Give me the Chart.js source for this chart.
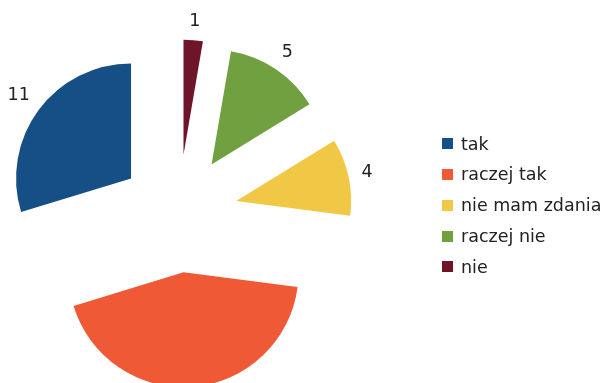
<!DOCTYPE html>
<html>
<head>
<meta charset="utf-8">
<script src="https://cdn.jsdelivr.net/npm/chart.js@4"></script>
<style>
    html, body { margin: 0; padding: 0; background: #fff; }
    #wrap { position: relative; width: 606px; height: 383px; overflow: hidden; }
    #legend { position: absolute; left: 442px; top: 128.6px; font-family: "DejaVu Sans", sans-serif; font-size: 17.5px; color: #222; }
    .row { display: flex; align-items: center; height: 30.75px; line-height: 30.75px; white-space: nowrap; }
    .box { width: 11px; height: 11px; margin-right: 8px; }
</style>
</head>
<body>
<div id="wrap">
    <canvas id="pieChart" width="606" height="383"></canvas>
    <div id="legend"></div>
</div>
<script>
// Chart data (legend order)
const categories = ['tak', 'raczej tak', 'nie mam zdania', 'raczej nie', 'nie'];
const answers = [11, 16, 4, 5, 1];
const sliceColors = ['#164f86', '#ef5936', '#f1c845', '#70a040', '#6e1529'];

// how far every slice is pulled out of the pie
const EXPLODE = 59;

// slices go counter-clockwise from the top, so feed them reversed
const drawLabels = categories.slice().reverse();
const drawValues = answers.slice().reverse();
const drawColors = sliceColors.slice().reverse();

// Draw each arc shifted outwards along its middle angle
const explodePlugin = {
    id: 'explode',
    beforeDatasetDraw(chart, args) {
        const ctx = chart.ctx;
        args.meta.data.forEach(arc => {
            const { startAngle, endAngle } = arc.getProps(['startAngle', 'endAngle'], true);
            const mid = (startAngle + endAngle) / 2;
            ctx.save();
            ctx.translate(Math.cos(mid) * EXPLODE, Math.sin(mid) * EXPLODE);
            arc.draw(ctx);
            ctx.restore();
        });
        return false;
    }
};

// Value labels outside the slices
const valueLabelPlugin = {
    id: 'valueLabels',
    afterDatasetsDraw(chart) {
        const ctx = chart.ctx;
        const meta = chart.getDatasetMeta(0);
        ctx.save();
        ctx.font = '17.5px "DejaVu Sans"';
        ctx.fillStyle = '#222';
        ctx.textAlign = 'center';
        ctx.textBaseline = 'middle';
        meta.data.forEach((arc, i) => {
            const { x, y, startAngle, endAngle, outerRadius } =
                arc.getProps(['x', 'y', 'startAngle', 'endAngle', 'outerRadius'], true);
            const mid = (startAngle + endAngle) / 2;
            const cos = Math.cos(mid);
            const sin = Math.sin(mid);
            const text = String(drawValues[i]);
            const w = ctx.measureText(text).width;
            const r = EXPLODE + outerRadius + 12 + Math.abs(cos) * w / 2 + Math.abs(sin) * 6.5;
            ctx.fillText(text, x + cos * r, y + sin * r);
        });
        ctx.restore();
    }
};

function buildLegend() {
    const legend = document.getElementById('legend');
    categories.forEach((name, i) => {
        const row = document.createElement('div');
        row.className = 'row';
        row.innerHTML = `<span class="box" style="background:${sliceColors[i]}"></span><span>${name}</span>`;
        legend.appendChild(row);
    });
}

function initializeChart() {
    const ctx = document.getElementById('pieChart').getContext('2d');
    new Chart(ctx, {
        type: 'pie',
        data: {
            labels: drawLabels,
            datasets: [{
                data: drawValues,
                backgroundColor: drawColors,
                borderWidth: 0
            }]
        },
        options: {
            responsive: false,
            animation: false,
            radius: 115,
            layout: {
                padding: { left: 0, right: 249, top: 44, bottom: 0 }
            },
            plugins: {
                legend: { display: false },
                tooltip: { enabled: false }
            },
            events: []
        },
        plugins: [explodePlugin, valueLabelPlugin]
    });
}

buildLegend();
initializeChart();
</script>
</body>
</html>
